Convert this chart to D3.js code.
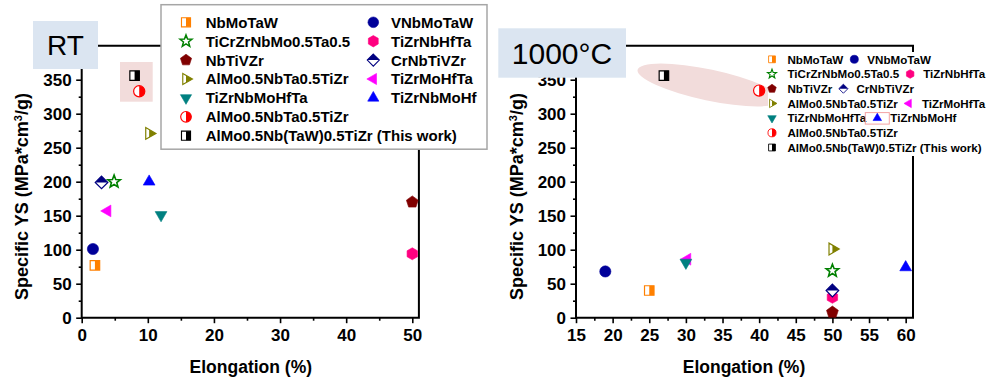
<!DOCTYPE html>
<html>
<head>
<meta charset="utf-8">
<script src="https://cdn.jsdelivr.net/npm/d3@7/dist/d3.min.js"></script>
<style>
  html, body { margin: 0; padding: 0; background: #fff; }
  svg { display: block; font-family: "Liberation Sans", Arial, sans-serif; }
</style>
</head>
<body>
<svg id="chart" width="990" height="381"></svg>
<script>
// Alloy series (legend order, read row by row)
const alloys = [
  "NbMoTaW", "VNbMoTaW",
  "TiCrZrNbMo0.5Ta0.5", "TiZrNbHfTa",
  "NbTiVZr", "CrNbTiVZr",
  "AlMo0.5NbTa0.5TiZr", "TiZrMoHfTa",
  "TiZrNbMoHfTa", "TiZrNbMoHf",
  "AlMo0.5NbTa0.5TiZr",
  "AlMo0.5Nb(TaW)0.5TiZr (This work)"
];

// Room temperature: elongation (%) and specific yield strength (MPa*cm3/g)
const rtElongation = [2.0, 1.7, 4.9, 50, 50, 3.0, 10.2, 3.9, 12.0, 10.2, 8.7, 8.0];
const rtSpecificYS = [77, 101, 200, 94, 170, 199, 271, 157, 151, 200, 333, 356];

// 1000 °C
const htElongation = [25, 19, 50, 50, 50, 50, 50, 30.2, 30, 60, 40, 27];
const htSpecificYS = [40, 68, 69, 30, 8, 40, 101, 86, 81, 74, 334, 356];

// Axis ticks
const rtXTicks = [0, 10, 20, 30, 40, 50];
const htXTicks = [15, 20, 25, 30, 35, 40, 45, 50, 55, 60];
const yTicks = [0, 50, 100, 150, 200, 250, 300, 350];

// Marker styles per series
const markerShape = ["square", "circle", "star", "hexagon", "pentagon", "diamond",
                     "triRight", "triLeft", "triDown", "triUp", "circle", "square"];
const markerFill  = ["right", "full", "open", "full", "full", "top",
                     "right", "full", "full", "full", "right", "right"];
const markerColor = ["#ff8000", "#000099", "#008000", "#ff0080", "#800000", "#000080",
                     "#808000", "#ff00ff", "#008080", "#0000ff", "#ff0000", "#000000"];
// Legend grid slot of each series
const legendRow = [0, 0, 1, 1, 2, 2, 3, 3, 4, 4, 5, 6];
const legendCol = [0, 1, 0, 1, 0, 1, 0, 1, 0, 1, 0, 0];

const svg = d3.select("#chart");
const defs = svg.append("defs");
defs.append("clipPath").attr("id", "clipRight")
  .append("rect").attr("x", 0).attr("y", -20).attr("width", 20).attr("height", 40);
defs.append("clipPath").attr("id", "clipTop")
  .append("rect").attr("x", -20).attr("y", -20).attr("width", 40).attr("height", 20);

function polygon(n, R, startDeg) {
  const pts = d3.range(n).map(i => {
    const a = (startDeg + i * 360 / n) * Math.PI / 180;
    return [R * Math.cos(a), R * Math.sin(a)];
  });
  return "M" + pts.map(p => p[0].toFixed(2) + "," + p[1].toFixed(2)).join("L") + "Z";
}
function shapePath(type, k) {
  const r = 5 * k;
  switch (type) {
    case "square": return `M${-r * 0.95},${-r * 0.95}H${r * 0.95}V${r * 0.95}H${-r * 0.95}Z`;
    case "circle": { const c = 5.6 * k; return `M${-c},0A${c},${c} 0 1,0 ${c},0A${c},${c} 0 1,0 ${-c},0Z`; }
    case "hexagon": return polygon(6, 6 * k, -90);
    case "pentagon": return polygon(5, 6.2 * k, -90);
    case "diamond": { const h = 6.3 * k, w = 6.3 * k; return `M0,${-h}L${w},0L0,${h}L${-w},0Z`; }
    case "triUp": return polygon(3, 6.8 * k, -90);
    case "triDown": return polygon(3, 6.8 * k, 90);
    case "triLeft": return polygon(3, 6.8 * k, 180);
    case "triRight": return polygon(3, 6.8 * k, 0);
    case "star": {
      const pts = d3.range(10).map(i => {
        const a = (-90 + i * 36) * Math.PI / 180, R = (i % 2 ? 2.8 : 6.6) * k;
        return [R * Math.cos(a), R * Math.sin(a)];
      });
      return "M" + pts.map(p => p[0].toFixed(2) + "," + p[1].toFixed(2)).join("L") + "Z";
    }
  }
}
function drawMarker(parent, i, x, y, k) {
  const g = parent.append("g").attr("transform", `translate(${x},${y})`);
  const d = shapePath(markerShape[i], k), col = markerColor[i], mode = markerFill[i];
  if (mode === "full") {
    g.append("path").attr("d", d).attr("fill", col).attr("stroke", col).attr("stroke-width", 0.6);
  } else if (mode === "open") {
    g.append("path").attr("d", d).attr("fill", "#fff").attr("stroke", col).attr("stroke-width", 1.6 * k);
  } else {
    g.append("path").attr("d", d).attr("fill", "#fff");
    g.append("path").attr("d", d).attr("fill", col)
      .attr("clip-path", mode === "right" ? "url(#clipRight)" : "url(#clipTop)");
    g.append("path").attr("d", d).attr("fill", "none").attr("stroke", col).attr("stroke-width", 1.2 * k);
  }
  return g;
}

function drawPanel(opt) {
  const x = d3.scaleLinear().domain(opt.xDomain).range(opt.xRange);
  const y = d3.scaleLinear().domain([0, 400]).range([317.7, 45.7]);
  const g = svg.append("g");
  const [x0, x1] = opt.xRange;

  // Frame
  g.append("path")
    .attr("d", `M${x0},${y(0)}H${x1}V${y(400)}H${x0}Z`)
    .attr("fill", "none").attr("stroke", "#000").attr("stroke-width", 2);

  // Axes (major + minor ticks)
  const xAx = g.append("g").attr("transform", `translate(0,${y(0)})`)
    .call(d3.axisBottom(x).tickValues(opt.xTicks).tickSize(5.5).tickSizeOuter(0));
  g.append("g").attr("transform", `translate(0,${y(0)})`)
    .call(d3.axisBottom(x).tickValues(opt.xMinor).tickSize(3).tickSizeOuter(0).tickFormat(""));
  const yAx = g.append("g").attr("transform", `translate(${x0},0)`)
    .call(d3.axisLeft(y).tickValues(yTicks).tickSize(5.5).tickSizeOuter(0));
  g.append("g").attr("transform", `translate(${x0},0)`)
    .call(d3.axisLeft(y).tickValues(d3.range(25, 400, 50)).tickSize(3).tickSizeOuter(0).tickFormat(""));
  g.selectAll(".domain").remove();
  g.selectAll(".tick line").attr("stroke", "#000").attr("stroke-width", 1.6);
  xAx.selectAll("text").attr("dy", null).attr("y", 23.5)
    .attr("font-size", 17).attr("font-weight", "bold").attr("fill", "#000")
    .attr("font-family", "Liberation Sans, Arial, sans-serif");
  yAx.selectAll("text").attr("x", -10).attr("dy", "0.36em")
    .attr("font-size", 17).attr("font-weight", "bold").attr("fill", "#000")
    .attr("font-family", "Liberation Sans, Arial, sans-serif");

  // Axis titles
  g.append("text").attr("x", (opt.xLabelCenter)).attr("y", 372.7)
    .attr("text-anchor", "middle").attr("font-size", 17.5).attr("font-weight", "bold")
    .text("Elongation (%)");
  const yl = g.append("text")
    .attr("transform", `translate(${x0 - 53.5},196.5) rotate(-90)`)
    .attr("text-anchor", "middle").attr("font-size", 18).attr("font-weight", "bold");
  yl.append("tspan").text("Specific YS (MPa*cm");
  yl.append("tspan").attr("baseline-shift", "super").attr("font-size", 11).text("3");
  yl.append("tspan").text("/g)");

  // Highlight behind this work / reference alloy
  opt.highlight(g, x, y);

  // Data points
  const pts = g.append("g");
  opt.xs.forEach((v, i) => drawMarker(pts, i, x(v), y(opt.ys[i]), 1));
  return { g, x, y };
}

// ---- Room temperature panel ----
drawPanel({
  xDomain: [0, 51], xRange: [81.7, 418.9],
  xTicks: rtXTicks, xMinor: [5, 15, 25, 35, 45],
  xs: rtElongation, ys: rtSpecificYS, xLabelCenter: 250.8,
  highlight: (g) => {
    g.append("rect").attr("x", 120).attr("y", 62).attr("width", 32.7).attr("height", 39.7)
      .attr("fill", "#f2dcdb");
  }
});

// ---- 1000 °C panel ----
drawPanel({
  xDomain: [15, 61], xRange: [576, 913],
  xTicks: htXTicks, xMinor: d3.range(17.5, 61, 5),
  xs: htElongation, ys: htSpecificYS, xLabelCenter: 744,
  highlight: (g) => {
    g.append("ellipse").attr("cx", 0).attr("cy", 0).attr("rx", 73).attr("ry", 15.5)
      .attr("transform", "translate(709,85) rotate(12)")
      .attr("fill", "#f2dcdb");
  }
});

// ---- Legend, room temperature ----
const legL = svg.append("g");
legL.append("rect").attr("x", 161).attr("y", 4.7).attr("width", 326).attr("height", 144.5)
  .attr("fill", "#fff").attr("stroke", "#a6a6a6").attr("stroke-width", 1.5);
alloys.forEach((name, i) => {
  const cy = 22.3 + 18.9 * legendRow[i];
  const sx = legendCol[i] ? 373.3 : 186, tx = legendCol[i] ? 391 : 205.7;
  drawMarker(legL, i, sx, cy, 0.95);
  legL.append("text").attr("x", tx).attr("y", cy + 5.4)
    .attr("font-size", 15).attr("font-weight", "bold").text(name);
});

// ---- Legend, 1000 °C ----
const legH = svg.append("g");
legH.append("rect").attr("x", 768).attr("y", 52).attr("width", 222).attr("height", 104)
  .attr("fill", "#fff");
const rowEnd = {};
alloys.forEach((name, i) => {
  const cy = 59.3 + 14.7 * legendRow[i];
  let sx = 772, tx = 787.5;
  if (legendCol[i]) { sx = rowEnd[legendRow[i]] + 11; tx = sx + 13; }
  if (markerShape[i] === "triUp") {
    legH.append("rect").attr("x", sx - 12).attr("y", cy - 5.5).attr("width", 24).attr("height", 11.5)
      .attr("fill", "none").attr("stroke", "#f4a3a3").attr("stroke-width", 1);
  }
  drawMarker(legH, i, sx, cy, 0.72);
  const t = legH.append("text").attr("x", tx).attr("y", cy + 4.2)
    .attr("font-size", 11.6).attr("font-weight", "bold").text(name);
  rowEnd[legendRow[i]] = tx + t.node().getComputedTextLength();
});

// ---- Panel captions ----
svg.append("rect").attr("x", 33).attr("y", 21).attr("width", 65).attr("height", 48).attr("fill", "#dbe5f1");
svg.append("text").attr("x", 65.5).attr("y", 55).attr("text-anchor", "middle")
  .attr("font-size", 28).text("RT");
svg.append("rect").attr("x", 498.3).attr("y", 28.3).attr("width", 127.7).attr("height", 49.4).attr("fill", "#dbe5f1");
svg.append("text").attr("x", 562).attr("y", 64).attr("text-anchor", "middle")
  .attr("font-size", 30).text("1000°C");
</script>
</body>
</html>
